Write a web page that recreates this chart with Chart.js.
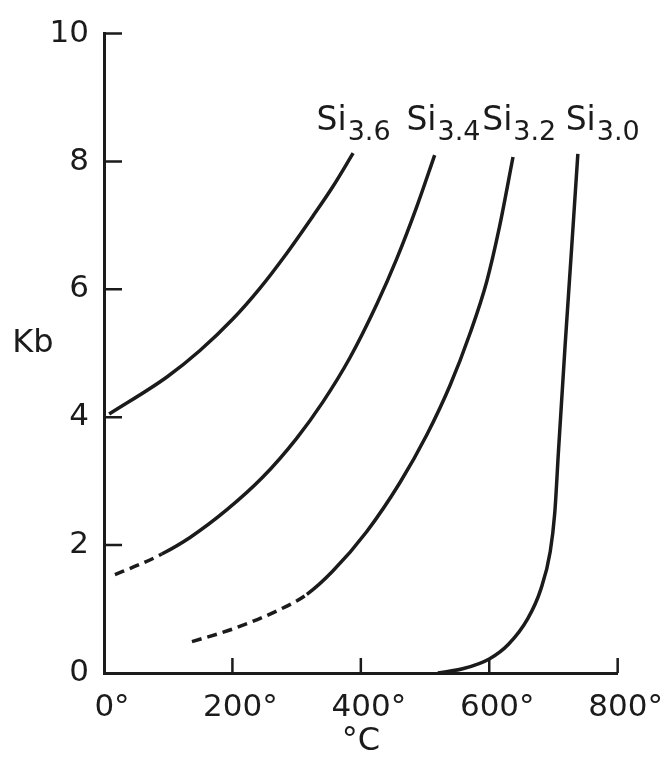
<!DOCTYPE html>
<html>
<head>
<meta charset="utf-8">
<style>
  html, body { margin: 0; padding: 0; background: #fff; }
  #wrap { width: 671px; height: 757px; }
</style>
<script src="https://cdn.jsdelivr.net/npm/chart.js@4/dist/chart.umd.min.js"></script>
</head>
<body>
<div id="wrap"><canvas id="c" width="671" height="757"></canvas></div>
<script>
// Temperature (°C) and pressure (Kb) along each silica-content curve
const si36Temp = [8, 98, 149, 201, 243, 285, 325, 356, 388];
const si36Kb   = [4.05, 4.63, 5.04, 5.54, 6.02, 6.57, 7.14, 7.60, 8.13];

const si34Temp = [17, 56, 90, 134, 191, 247, 300, 341, 383, 425, 456, 487, 515];
const si34Kb   = [1.54, 1.70, 1.86, 2.12, 2.55, 3.06, 3.67, 4.24, 4.93, 5.77, 6.48, 7.29, 8.10];

const si32Temp = [137, 201, 269, 316, 356, 409, 461, 503, 539, 570, 596, 616, 637];
const si32Kb   = [0.49, 0.69, 0.97, 1.23, 1.59, 2.21, 2.98, 3.73, 4.50, 5.31, 6.12, 6.98, 8.07];

const si30Temp = [520, 560, 600, 630, 660, 680, 695, 702, 708, 718, 728, 738];
const si30Kb   = [0, 0.07, 0.22, 0.45, 0.85, 1.3, 1.9, 2.5, 3.5, 5.1, 6.6, 8.12];

// Number of leading points joined by the dashed (extrapolated) part of each curve
const si36Dashed = 0;
const si34Dashed = 2;
const si32Dashed = 3;
const si30Dashed = 0;

const seriesSubscripts = ['3.6', '3.4', '3.2', '3.0'];

const xTicks = [0, 200, 400, 600, 800];
const yTicks = [0, 2, 4, 6, 8, 10];

const FONT = '"DejaVu Sans", "Liberation Sans", sans-serif';
const INK = '#1b1b1b';

function pts(xs, ys) { return xs.map((x, i) => ({ x: x, y: ys[i] })); }

function curve(xs, ys, dashedUntil) {
  return {
    data: pts(xs, ys),
    showLine: true,
    borderColor: INK,
    borderWidth: 3.5,
    pointRadius: 0,
    fill: false,
    cubicInterpolationMode: 'monotone',
    segment: {
      borderDash: ctx => (ctx.p1DataIndex <= dashedUntil ? [10, 6] : undefined)
    }
  };
}

// Inward tick marks, the horizontal "Kb" title and the curve labels
const decorations = {
  id: 'decorations',
  afterDraw(chart) {
    const ctx = chart.ctx;
    const xs = chart.scales.x, ys = chart.scales.y;
    const area = chart.chartArea;
    ctx.save();
    ctx.strokeStyle = INK;
    ctx.lineWidth = 2.5;
    ctx.beginPath();
    yTicks.forEach(v => {
      if (v === 0) return;
      const py = ys.getPixelForValue(v);
      ctx.moveTo(area.left, py);
      ctx.lineTo(area.left + 18, py);
    });
    xTicks.forEach(v => {
      if (v === 0) return;
      const px = xs.getPixelForValue(v);
      ctx.moveTo(px, area.bottom);
      ctx.lineTo(px, area.bottom - 15);
    });
    ctx.stroke();

    ctx.fillStyle = INK;
    ctx.textBaseline = 'middle';
    ctx.textAlign = 'center';
    ctx.font = '32px ' + FONT;
    ctx.fillText('Kb', 33, ys.getPixelForValue(5.15));

    // curve labels: "Si" with a lowered subscript
    const anchors = chart.options.plugins.decorations.labels;
    ctx.textAlign = 'left';
    ctx.textBaseline = 'alphabetic';
    anchors.forEach((a, i) => {
      const px = xs.getPixelForValue(a.x);
      const py = ys.getPixelForValue(a.y);
      ctx.font = '33px ' + FONT;
      ctx.fillText('Si', px, py);
      const w = ctx.measureText('Si').width;
      ctx.font = '27px ' + FONT;
      ctx.fillText(seriesSubscripts[i], px + w + 1, py + 10);
    });
    ctx.restore();
  }
};

new Chart(document.getElementById('c'), {
  type: 'scatter',
  data: {
    datasets: [
      curve(si36Temp, si36Kb, si36Dashed),
      curve(si34Temp, si34Kb, si34Dashed),
      curve(si32Temp, si32Kb, si32Dashed),
      curve(si30Temp, si30Kb, si30Dashed)
    ]
  },
  options: {
    responsive: false,
    animation: false,
    events: [],
    layout: { padding: { left: 0, top: 25, right: 53, bottom: 0 } },
    plugins: {
      legend: { display: false },
      tooltip: { enabled: false },
      decorations: {
        labels: [
          { x: 331, y: 8.5 },
          { x: 471, y: 8.5 },
          { x: 589, y: 8.5 },
          { x: 719, y: 8.5 }
        ]
      }
    },
    scales: {
      x: {
        type: 'linear',
        min: 0, max: 800,
        afterBuildTicks: s => { s.ticks = xTicks.map(v => ({ value: v })); },
        afterFit: s => { s.height = 84; },
        grid: { display: false, drawTicks: false },
        border: { display: true, color: INK, width: 3 },
        ticks: {
          color: INK,
          font: { family: FONT, size: 31 },
          padding: 16,
          maxRotation: 0,
          labelOffset: 8,
          callback: v => v + '°'
        },
        title: {
          display: true,
          text: '°C',
          color: INK,
          font: { family: FONT, size: 32 },
          padding: { top: 0, bottom: -4 }
        }
      },
      y: {
        type: 'linear',
        min: 0, max: 10,
        afterBuildTicks: s => { s.ticks = yTicks.map(v => ({ value: v })); },
        afterFit: s => { s.width = 104; },
        grid: { display: false, drawTicks: false },
        border: { display: true, color: INK, width: 3 },
        ticks: {
          color: INK,
          font: { family: FONT, size: 31 },
          padding: 15
        }
      }
    }
  },
  plugins: [decorations]
});
</script>
</body>
</html>
